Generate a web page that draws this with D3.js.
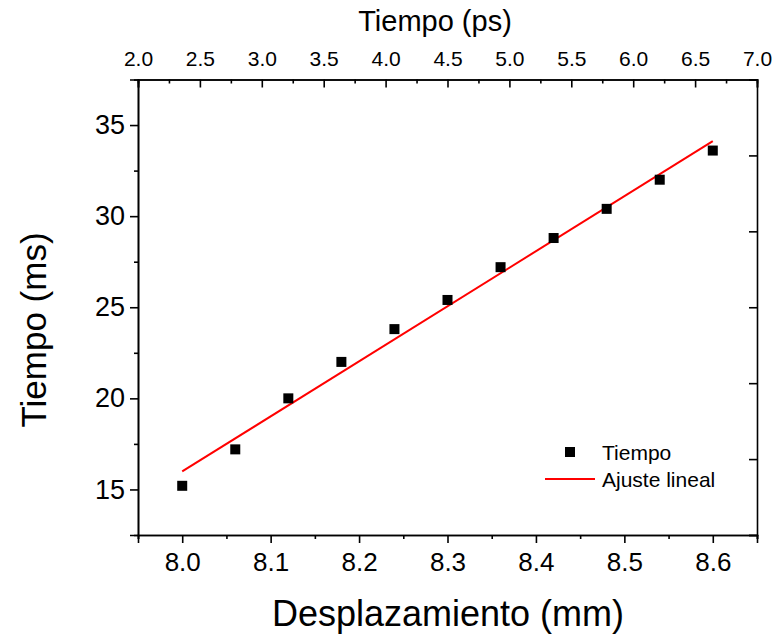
<!DOCTYPE html>
<html>
<head>
<meta charset="utf-8">
<script src="https://cdn.jsdelivr.net/npm/d3@7"></script>
<style>
  html, body { margin: 0; padding: 0; background: #fff; }
  svg { display: block; font-family: "Liberation Sans", Arial, sans-serif; }
</style>
</head>
<body>
<svg id="chart" width="774" height="634"></svg>
<script>
// Measured displacement (mm) and time (ms)
const displacement = [8.00, 8.06, 8.12, 8.18, 8.24, 8.30, 8.36, 8.42, 8.48, 8.54, 8.60];
const timeMs = [15.2, 17.2, 20.0, 22.0, 23.8, 25.4, 27.2, 28.8, 30.4, 32.0, 33.6];

// Axis ticks
const bottomTicks = [8.0, 8.1, 8.2, 8.3, 8.4, 8.5, 8.6];
const bottomMinor = [7.95, 8.05, 8.15, 8.25, 8.35, 8.45, 8.55, 8.65];
const leftTicks = [15, 20, 25, 30, 35];
const leftMinor = [17.5, 22.5, 27.5, 32.5];
const topTicks = [2.0, 2.5, 3.0, 3.5, 4.0, 4.5, 5.0, 5.5, 6.0, 6.5, 7.0];
const topMinor = [2.25, 2.75, 3.25, 3.75, 4.25, 4.75, 5.25, 5.75, 6.25, 6.75];
const rightTicks = [0, 1, 2, 3, 4, 5, 6];

const labels = {
  x: "Desplazamiento (mm)",
  y: "Tiempo (ms)",
  top: "Tiempo (ps)",
  points: "Tiempo",
  fit: "Ajuste lineal"
};

const svg = d3.select("#chart");
const L = 138, R = 757, T = 79.5, B = 535;

const x = d3.scaleLinear().domain([7.95, 8.65]).range([L, R]);
const y = d3.scaleLinear().domain([12.5, 37.5]).range([B, T]);
const xTop = d3.scaleLinear().domain([2, 7]).range([L, R]);
const yRight = d3.scaleLinear().domain([0, 6]).range([B, T]);

function styleAxis(g) {
  g.select(".domain").attr("stroke", "#000").attr("stroke-width", 1.6);
  g.selectAll(".tick line").attr("stroke", "#000").attr("stroke-width", 1.6);
  g.selectAll(".tick text").attr("fill", "#000");
}

// Bottom axis (outward ticks)
const gB = svg.append("g").attr("transform", `translate(0,${B})`)
  .call(d3.axisBottom(x).tickValues(bottomTicks).tickSize(8).tickPadding(10)
    .tickFormat(d3.format(".1f")))
  .call(styleAxis);
gB.selectAll(".tick text").attr("font-size", 26);
svg.append("g").attr("transform", `translate(0,${B})`)
  .call(d3.axisBottom(x).tickValues(bottomMinor).tickSize(4).tickFormat(""))
  .call(styleAxis);

// Left axis (outward ticks)
const gL = svg.append("g").attr("transform", `translate(${L},0)`)
  .call(d3.axisLeft(y).tickValues(leftTicks).tickSize(8).tickPadding(5))
  .call(styleAxis);
gL.selectAll(".tick text").attr("font-size", 27);
svg.append("g").attr("transform", `translate(${L},0)`)
  .call(d3.axisLeft(y).tickValues(leftMinor).tickSize(4).tickFormat(""))
  .call(styleAxis);

// Top axis (inward ticks, labels above)
const gT = svg.append("g").attr("transform", `translate(0,${T})`)
  .call(d3.axisTop(xTop).tickValues(topTicks).tickSize(-8).tickPadding(14)
    .tickFormat(d3.format(".1f")))
  .call(styleAxis);
gT.selectAll(".tick text").attr("font-size", 21);
svg.append("g").attr("transform", `translate(0,${T})`)
  .call(d3.axisTop(xTop).tickValues(topMinor).tickSize(-4).tickFormat(""))
  .call(styleAxis);

// Right axis (inward ticks, no labels)
svg.append("g").attr("transform", `translate(${R},0)`)
  .call(d3.axisRight(yRight).tickValues(rightTicks).tickSize(-8).tickFormat(""))
  .call(styleAxis);

// Linear least-squares fit of time vs displacement
const mx = d3.mean(displacement), my = d3.mean(timeMs);
const sxy = d3.sum(displacement, (d, i) => (d - mx) * (timeMs[i] - my));
const sxx = d3.sum(displacement, d => (d - mx) * (d - mx));
const slope = sxy / sxx, intercept = my - slope * mx;
const xExt = d3.extent(displacement);
const fitLine = xExt.map(v => [v, intercept + slope * v]);

svg.append("path")
  .datum(fitLine)
  .attr("fill", "none")
  .attr("stroke", "#ff0000")
  .attr("stroke-width", 2)
  .attr("d", d3.line().x(d => x(d[0])).y(d => y(d[1])));

// Data points
const sq = 10;
svg.append("g").selectAll("rect")
  .data(displacement.map((d, i) => [d, timeMs[i]]))
  .join("rect")
  .attr("x", d => x(d[0]) - sq / 2)
  .attr("y", d => y(d[1]) - sq / 2)
  .attr("width", sq).attr("height", sq)
  .attr("fill", "#000");

// Axis titles
svg.append("text").attr("x", 448).attr("y", 626).attr("text-anchor", "middle")
  .attr("font-size", 36).text(labels.x);
svg.append("text").attr("transform", "translate(46,330) rotate(-90)")
  .attr("text-anchor", "middle").attr("font-size", 35).text(labels.y);
svg.append("text").attr("x", 435).attr("y", 31).attr("text-anchor", "middle")
  .attr("font-size", 29).text(labels.top);

// Legend
const lg = svg.append("g");
lg.append("rect").attr("x", 565).attr("y", 447).attr("width", sq).attr("height", sq).attr("fill", "#000");
lg.append("text").attr("x", 602).attr("y", 460).attr("font-size", 21).text(labels.points);
lg.append("line").attr("x1", 545).attr("x2", 595).attr("y1", 479).attr("y2", 479)
  .attr("stroke", "#ff0000").attr("stroke-width", 2);
lg.append("text").attr("x", 602).attr("y", 487).attr("font-size", 21).text(labels.fit);
</script>
</body>
</html>
